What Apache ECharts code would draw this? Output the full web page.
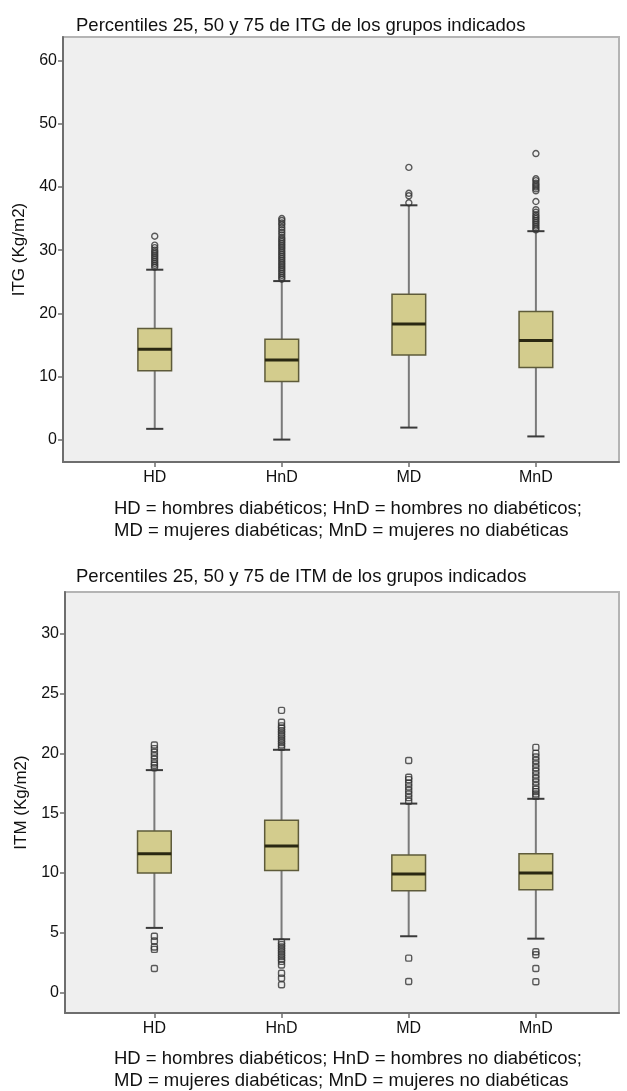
<!DOCTYPE html>
<html>
<head>
<meta charset="utf-8">
<script src="https://cdn.jsdelivr.net/npm/echarts@6/dist/echarts.min.js"></script>
<style>
html,body{margin:0;padding:0;background:#fff;}
#c{width:627px;height:1091px;}
</style>
</head>
<body>
<div id="c"></div>
<script>
// ---- data ----
const categories = ['HD', 'HnD', 'MD', 'MnD'];

const itgTicks = [0, 10, 20, 30, 40, 50, 60];
const itmTicks = [0, 5, 10, 15, 20, 25, 30];

// [low whisker, Q1, median, Q3, high whisker]
const itgBox = [
  [1.7, 10.9, 14.3, 17.6, 26.9],
  [0.0, 9.2, 12.6, 15.9, 25.1],
  [1.9, 13.4, 18.3, 23.0, 37.1],
  [0.5, 11.4, 15.7, 20.3, 33.0]
];
const itgOutHD  = [27.3, 27.6, 27.9, 28.2, 28.5, 28.8, 29.1, 29.4, 29.7, 30.0, 30.4, 30.8, 32.2];
const itgOutHnD = [25.4, 25.7, 26.0, 26.3, 26.6, 26.9, 27.2, 27.5, 27.8, 28.1, 28.4, 28.7, 29.0, 29.3, 29.6, 29.9, 30.2, 30.5, 30.8, 31.1, 31.4, 31.7, 32.0, 32.4, 32.8, 33.2, 33.6, 34.0, 34.3, 34.7, 35.0];
const itgOutMD  = [37.5, 38.6, 39.0, 43.1];
const itgOutMnD = [33.2, 33.5, 33.8, 34.1, 34.4, 34.7, 35.0, 35.3, 35.6, 36.0, 36.4, 37.7, 39.4, 39.7, 40.0, 40.3, 40.6, 41.0, 41.3, 45.3];

const itmBox = [
  [5.4, 10.0, 11.6, 13.5, 18.6],
  [4.45, 10.2, 12.25, 14.4, 20.3],
  [4.7, 8.5, 9.9, 11.5, 15.8],
  [4.5, 8.6, 10.0, 11.6, 16.2]
];
const itmOutHD  = [18.8, 19.0, 19.2, 19.5, 19.8, 20.1, 20.4, 20.7, 4.7, 4.3, 3.8, 3.6, 2.0];
const itmOutHnD = [20.5, 20.7, 20.9, 21.1, 21.3, 21.5, 21.7, 21.9, 22.1, 22.3, 22.6, 23.6, 4.2, 4.0, 3.8, 3.6, 3.4, 3.2, 3.0, 2.8, 2.6, 2.3, 1.6, 1.2, 0.64];
const itmOutMD  = [16.0, 16.3, 16.6, 16.9, 17.2, 17.5, 17.8, 18.0, 19.4, 2.87, 0.92];
const itmOutMnD = [16.4, 16.6, 16.8, 17.0, 17.3, 17.6, 17.9, 18.2, 18.5, 18.8, 19.1, 19.4, 19.7, 20.0, 20.5, 3.4, 3.15, 2.0, 0.9];

const titleTop = 'Percentiles 25, 50 y 75 de ITG de los grupos indicados';
const titleBottom = 'Percentiles 25, 50 y 75 de ITM de los grupos indicados';
const caption = 'HD = hombres diabéticos; HnD = hombres no diabéticos;\nMD = mujeres diabéticas; MnD = mujeres no diabéticas';

// ---- build ----
function boxData(box) {
  return box.map((b, i) => [i].concat(b));
}
function outData(lists) {
  const out = [];
  lists.forEach((l, i) => l.forEach(v => out.push([i, v])));
  return out;
}

const FONT = '"Liberation Sans", Arial, sans-serif';
const BOX_W = 0.265;
const CAP_W = 0.135;

function renderBox(params, api) {
  const x = api.value(0);
  const lo = api.coord([x, api.value(1)]);
  const q1 = api.coord([x, api.value(2)]);
  const md = api.coord([x, api.value(3)]);
  const q3 = api.coord([x, api.value(4)]);
  const hi = api.coord([x, api.value(5)]);
  const bw = api.size([BOX_W, 0])[0];
  const cw = api.size([CAP_W, 0])[0];
  const cx = lo[0];
  return {
    type: 'group',
    children: [
      { type: 'line', shape: { x1: cx, y1: hi[1], x2: cx, y2: q3[1] }, style: { stroke: '#7a7a7a', lineWidth: 2 } },
      { type: 'line', shape: { x1: cx, y1: q1[1], x2: cx, y2: lo[1] }, style: { stroke: '#7a7a7a', lineWidth: 2 } },
      { type: 'line', shape: { x1: cx - cw / 2, y1: hi[1], x2: cx + cw / 2, y2: hi[1] }, style: { stroke: '#3a3a3a', lineWidth: 2 } },
      { type: 'line', shape: { x1: cx - cw / 2, y1: lo[1], x2: cx + cw / 2, y2: lo[1] }, style: { stroke: '#3a3a3a', lineWidth: 2 } },
      { type: 'rect', shape: { x: cx - bw / 2, y: q3[1], width: bw, height: q1[1] - q3[1] }, style: { fill: '#d3cc8d', stroke: '#5e5b3a', lineWidth: 1.5 } },
      { type: 'line', shape: { x1: cx - bw / 2, y1: md[1], x2: cx + bw / 2, y2: md[1] }, style: { stroke: '#2a2812', lineWidth: 3 } }
    ]
  };
}

function xAxisCfg(gridIndex, min, max) {
  return {
    type: 'value', gridIndex, min, max,
    splitLine: { show: false },
    axisLine: { show: true, onZero: false, lineStyle: { color: '#6e6e6e', width: 2 } },
    axisTick: { show: true, customValues: [0, 1, 2, 3], length: 5, lineStyle: { color: '#6e6e6e', width: 1.5 } },
    axisLabel: { customValues: [0, 1, 2, 3], formatter: v => categories[Math.round(v)] || '', color: '#111', fontSize: 16, fontFamily: FONT, margin: 8 }
  };
}
function yAxisCfg(gridIndex, min, max, ticks, name) {
  return {
    type: 'value', gridIndex, min, max,
    name, nameLocation: 'middle', nameGap: 32,
    nameTextStyle: { color: '#111', fontSize: 17, fontFamily: FONT },
    splitLine: { show: false },
    axisLine: { show: true, onZero: false, lineStyle: { color: '#6e6e6e', width: 2 } },
    axisTick: { show: true, customValues: ticks, length: 5, lineStyle: { color: '#6e6e6e', width: 1.5 } },
    axisLabel: { customValues: ticks, color: '#111', fontSize: 16, fontFamily: FONT, margin: 6 }
  };
}

const outStyle = { color: 'rgba(0,0,0,0)', borderColor: '#333', borderWidth: 1.4 };
const txt = { fontSize: 18.5, fontWeight: 'normal', color: '#111', fontFamily: FONT };

const option = {
  animation: false,
  backgroundColor: '#fff',
  title: [
    { text: titleTop, left: 71, top: 11, textStyle: txt },
    { text: caption, left: 109, top: 493, textStyle: Object.assign({ lineHeight: 22 }, txt) },
    { text: titleBottom, left: 71, top: 562, textStyle: txt },
    { text: caption, left: 109, top: 1043, textStyle: Object.assign({ lineHeight: 22 }, txt) }
  ],
  grid: [
    { left: 63, top: 37, width: 556, height: 425, show: true, backgroundColor: '#efefef', borderColor: '#b4b4b4', borderWidth: 2 },
    { left: 65, top: 592, width: 554, height: 421, show: true, backgroundColor: '#efefef', borderColor: '#b4b4b4', borderWidth: 2 }
  ],
  xAxis: [
    xAxisCfg(0, -0.722, 3.654),
    xAxisCfg(1, -0.703, 3.654)
  ],
  yAxis: [
    yAxisCfg(0, -3.55, 63.75, itgTicks, 'ITG (Kg/m2)'),
    yAxisCfg(1, -1.72, 33.5, itmTicks, 'ITM (Kg/m2)')
  ],
  series: [
    { type: 'custom', xAxisIndex: 0, yAxisIndex: 0, renderItem: renderBox, data: boxData(itgBox), encode: { x: 0, y: [1, 2, 3, 4, 5] } },
    { type: 'scatter', xAxisIndex: 0, yAxisIndex: 0, symbol: 'circle', symbolSize: 6, itemStyle: outStyle,
      data: outData([itgOutHD, itgOutHnD, itgOutMD, itgOutMnD]) },
    { type: 'custom', xAxisIndex: 1, yAxisIndex: 1, renderItem: renderBox, data: boxData(itmBox), encode: { x: 0, y: [1, 2, 3, 4, 5] } },
    { type: 'scatter', xAxisIndex: 1, yAxisIndex: 1, symbol: 'roundRect', symbolSize: 6, itemStyle: outStyle,
      data: outData([itmOutHD, itmOutHnD, itmOutMD, itmOutMnD]) }
  ]
};

const chart = echarts.init(document.getElementById('c'), null, { renderer: 'canvas' });
chart.setOption(option);
</script>
</body>
</html>
